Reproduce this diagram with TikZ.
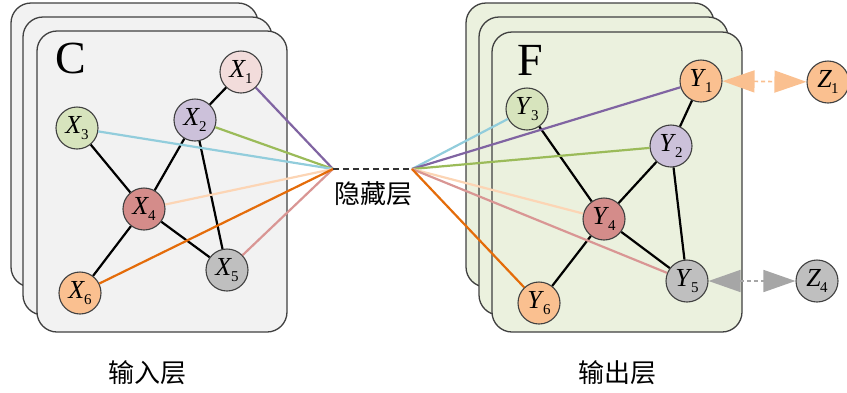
\documentclass[tikz,border=0pt]{standalone}
\usepackage{fontspec}
\setmainfont{Liberation Serif}
\newfontfamily\cjk{Noto Sans CJK SC}
\usetikzlibrary{arrows.meta}
\definecolor{cpurple}{HTML}{8064A2}
\definecolor{cgreen}{HTML}{9BBB59}
\definecolor{cblue}{HTML}{92CDDC}
\definecolor{cpeach}{HTML}{FCD5B5}
\definecolor{cpink}{HTML}{D99694}
\definecolor{corange}{HTML}{E46C0A}
\definecolor{fpink}{HTML}{F2DCDB}
\definecolor{flav}{HTML}{CCC1DA}
\definecolor{fgreen}{HTML}{D7E4BD}
\definecolor{fred}{HTML}{D48C8A}
\definecolor{fgrey}{HTML}{BFBFBF}
\definecolor{forange}{HTML}{FAC090}
\definecolor{cardgrey}{HTML}{F2F2F2}
\definecolor{cardgreen}{HTML}{EBF1DE}
\definecolor{agrey}{HTML}{A6A6A6}
\newcommand\lab[2]{\textit{#1}\kern-1pt\raisebox{-0.5ex}{\fontsize{15}{15}\selectfont #2}}
\tikzset{
  card/.style={draw=black!75, line width=1.3pt, rounded corners=20pt},
  vnode/.style={circle, draw=black!75, line width=1.1pt, minimum size=42pt, inner sep=0pt, font=\fontsize{26}{26}\selectfont},
  edge/.style={black, line width=2.2pt},
  link/.style={line width=2.2pt},
  bigletter/.style={font=\fontsize{46}{46}\selectfont, inner sep=0pt},
  cjklabel/.style={font=\cjk\fontsize{26}{30}\selectfont, inner sep=0pt},
  zarrow/.style={line width=1.6pt, dash pattern=on 4pt off 3pt,
    {Triangle[length=32pt,width=22pt]}-{Triangle[length=32pt,width=22pt]}}
}
\begin{document}
\begin{tikzpicture}[x=1pt,y=-1pt]
\useasboundingbox (0,0) rectangle (847,392);
% left cards
\draw[card, fill=cardgrey] (11,3) rectangle (258,287);
\draw[card, fill=cardgrey] (23,17) rectangle (272,315);
\draw[card, fill=cardgrey] (37,31) rectangle (287,332);
% right cards
\draw[card, fill=cardgreen] (466,3) rectangle (714,287);
\draw[card, fill=cardgreen] (479,17) rectangle (728,315);
\draw[card, fill=cardgreen] (492,32) rectangle (742,332);
\node[bigletter] (C) at (71,58) {C};
\node[bigletter] (F) at (530,60) {F};
% nodes
\node[vnode, fill=fpink] (X1) at (241,72) {\lab{X}{1}};
\node[vnode, fill=flav] (X2) at (195,120) {\lab{X}{2}};
\node[vnode, fill=fgreen] (X3) at (77,128) {\lab{X}{3}};
\node[vnode, fill=fred] (X4) at (144,209) {\lab{X}{4}};
\node[vnode, fill=fgrey] (X5) at (227,270) {\lab{X}{5}};
\node[vnode, fill=forange] (X6) at (80,293) {\lab{X}{6}};
\node[vnode, fill=forange] (Y1) at (701,81) {\lab{Y}{1}};
\node[vnode, fill=flav] (Y2) at (671,146) {\lab{Y}{2}};
\node[vnode, fill=fgreen] (Y3) at (527,109) {\lab{Y}{3}};
\node[vnode, fill=fred] (Y4) at (604,219) {\lab{Y}{4}};
\node[vnode, fill=fgrey] (Y5) at (687,281) {\lab{Y}{5}};
\node[vnode, fill=forange] (Y6) at (539,303) {\lab{Y}{6}};
\node[vnode, fill=forange] (Z1) at (828,82) {\lab{Z}{1}};
\node[vnode, fill=fgrey] (Z4) at (817,281) {\lab{Z}{4}};
\coordinate (hl) at (333,169);
\coordinate (hr) at (412,169);
% black edges
\foreach \a/\b in {X1/X2,X2/X4,X2/X5,X3/X4,X4/X5,X4/X6,Y1/Y2,Y2/Y4,Y2/Y5,Y3/Y4,Y4/Y5,Y4/Y6}
  \draw[edge] (\a) -- (\b);
% coloured links
\draw[link, cpurple] (X1) -- (hl);
\draw[link, cgreen] (X2) -- (hl);
\draw[link, cblue] (X3) -- (hl);
\draw[link, cpeach] (X4) -- (hl);
\draw[link, cpink] (X5) -- (hl);
\draw[link, corange] (X6) -- (hl);
\draw[link, cblue] (hr) -- (Y3);
\draw[link, cpurple] (hr) -- (Y1);
\draw[link, cgreen] (hr) -- (Y2);
\draw[link, cpeach] (hr) -- (Y4);
\draw[link, cpink] (hr) -- (Y5);
\draw[link, corange] (hr) -- (Y6);
\draw[line width=1.2pt, black!80, dash pattern=on 6pt off 4pt] (hl) -- (hr);
\node[cjklabel] (hid) at (373,194) {隐藏层};
\node[cjklabel] (inl) at (147,373) {输入层};
\node[cjklabel] (outl) at (617,373) {输出层};
\draw[zarrow, forange] (Y1) -- (Z1);
\draw[zarrow, agrey] (Y5) -- (Z4);
\end{tikzpicture}
\end{document}
